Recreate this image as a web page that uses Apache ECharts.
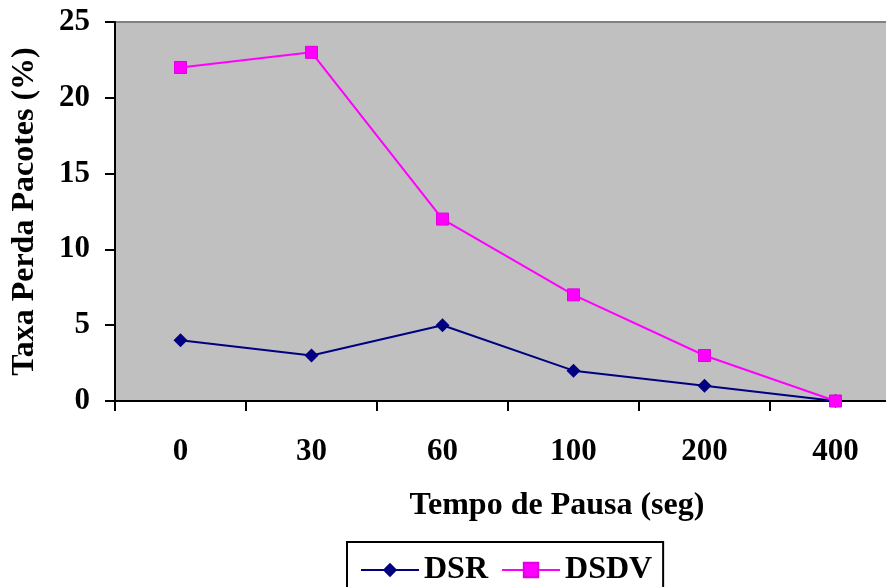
<!DOCTYPE html>
<html>
<head>
<meta charset="utf-8">
<script src="https://cdn.jsdelivr.net/npm/echarts@6/dist/echarts.min.js"></script>
<style>
html,body{margin:0;padding:0;background:#fff;overflow:hidden;}
#chart{width:886px;height:587px;}
</style>
</head>
<body>
<div id="chart"></div>
<script>
const categories = ['0', '30', '60', '100', '200', '400'];
const dsr = [4, 3, 5, 2, 1, 0];
const dsdv = [22, 23, 12, 7, 3, 0];
const yTicks = { min: 0, max: 25, interval: 5 };

const FONT = 'Liberation Serif';
const chart = echarts.init(document.getElementById('chart'));
chart.setOption({
  animation: false,
  backgroundColor: '#ffffff',
  grid: {
    left: 115, top: 22, width: 786, height: 379,
    outerBoundsMode: 'none',
    containLabel: false,
    show: true, backgroundColor: '#C0C0C0', borderWidth: 0
  },
  xAxis: {
    type: 'category',
    data: categories,
    boundaryGap: true,
    name: 'Tempo de Pausa (seg)',
    nameLocation: 'middle',
    nameGap: 89,
    nameTextStyle: { fontFamily: FONT, fontWeight: 'bold', fontSize: 32, color: '#000', padding: [0, 0, 0, 98] },
    axisLine: { lineStyle: { color: '#000', width: 2 } },
    axisTick: { show: true, length: 10, lineStyle: { color: '#000', width: 2 } },
    axisLabel: { margin: 35, fontFamily: FONT, fontWeight: 'bold', fontSize: 31, color: '#000' },
    splitLine: { show: false }
  },
  yAxis: {
    type: 'value',
    min: yTicks.min, max: yTicks.max, interval: yTicks.interval,
    name: 'Taxa Perda Pacotes (%)',
    nameLocation: 'middle',
    nameGap: 74,
    nameTextStyle: { fontFamily: FONT, fontWeight: 'bold', fontSize: 32, color: '#000' },
    axisLine: { show: true, lineStyle: { color: '#000', width: 2 } },
    axisTick: { show: true, length: 10, lineStyle: { color: '#000', width: 2 } },
    axisLabel: { margin: 25, fontFamily: FONT, fontWeight: 'bold', fontSize: 31, color: '#000' },
    splitLine: { show: false }
  },
  graphic: [],
  legend: {
    left: 347, top: 542,
    padding: [12, 11, 40, 13],
    itemWidth: 58, itemHeight: 18, itemGap: 13,
    borderColor: '#000', borderWidth: 2,
    textStyle: { fontFamily: FONT, fontWeight: 'bold', fontSize: 32, color: '#000' },
    data: ['DSR', 'DSDV']
  },
  series: [
    {
      name: 'DSR', type: 'line', data: dsr,
      symbol: 'diamond', symbolSize: 14,
      lineStyle: { color: '#000080', width: 2 },
      itemStyle: { color: '#000080' }
    },
    {
      name: 'DSDV', type: 'line', data: dsdv,
      symbol: 'rect', symbolSize: 12,
      lineStyle: { color: '#FF00FF', width: 2 },
      itemStyle: { color: '#FF00FF', borderColor: '#E000E0', borderWidth: 1 }
    }
  ]
});
// top border of plot area
const gridTopY = chart.convertToPixel({ yAxisIndex: 0 }, yTicks.max);
chart.setOption({
  graphic: [{
    type: 'line', silent: true,
    shape: { x1: 115, y1: gridTopY, x2: 886, y2: gridTopY },
    style: { stroke: '#808080', lineWidth: 2 }
  }]
});
</script>
</body>
</html>
